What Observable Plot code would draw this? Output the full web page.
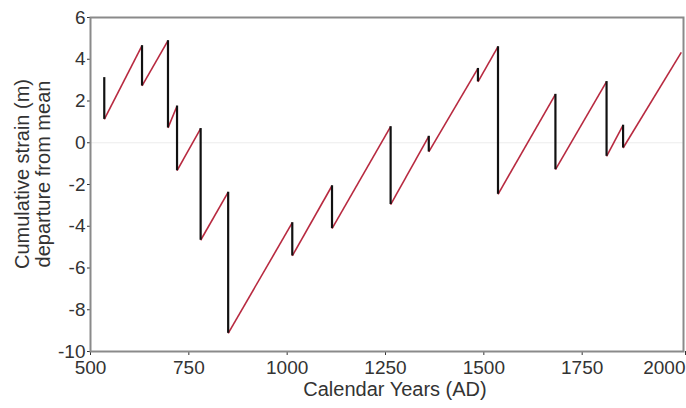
<!DOCTYPE html>
<html>
<head>
<meta charset="utf-8">
<script src="https://cdn.jsdelivr.net/npm/d3@7"></script>
<script src="https://cdn.jsdelivr.net/npm/@observablehq/plot@0.6"></script>
<style>
  html, body { margin: 0; padding: 0; background: #fff; }
  #chart { width: 686px; height: 408px; }
</style>
</head>
<body>
<div id="chart"></div>
<script>
// Earthquake years (AD), strain just before and just after each drop (m)
const eventYears   = [535, 631, 697, 720, 780, 850, 1013, 1114, 1263, 1360, 1485, 1536, 1682, 1812, 1854];
const strainBefore = [3.12, 4.65, 4.89, 1.76, 0.68, -2.37, -3.83, -2.06, 0.77, 0.31, 3.56, 4.60, 2.32, 2.93, 0.84];
const strainAfter  = [1.12, 2.72, 0.71, -1.34, -4.67, -9.13, -5.42, -4.11, -2.96, -0.44, 2.92, -2.47, -1.29, -0.65, -0.25];
const endYear = 2002;
const endStrain = 4.33;

const xTicks = [500, 750, 1000, 1250, 1500, 1750, 2000];
const yTicks = [-10, -8, -6, -4, -2, 0, 2, 4, 6];

const events = eventYears.map((y, i) => ({year: y, before: strainBefore[i], after: strainAfter[i]}));
const accumulation = events.map((e, i) => ({
  x1: e.year, y1: e.after,
  x2: i + 1 < events.length ? events[i + 1].year : endYear,
  y2: i + 1 < events.length ? events[i + 1].before : endStrain
}));

const fontFamily = "'Liberation Sans', Arial, Helvetica, sans-serif";
const lastTick = xTicks[xTicks.length - 1];

const plot = Plot.plot({
  width: 686,
  height: 408,
  marginLeft: 90,
  marginRight: 3,
  marginTop: 17,
  marginBottom: 57,
  style: {fontSize: "19px", fontFamily, color: "#333", background: "#fff", overflow: "visible"},
  x: {domain: [500, 2007.6], label: null},
  y: {domain: [-10, 6], ticks: yTicks, tickFormat: d => String(d), tickSize: 3, tickPadding: 2, label: null},
  marks: [
    Plot.ruleY([0], {stroke: "#ececec", strokeWidth: 1}),
    Plot.link(accumulation, {x1: "x1", y1: "y1", x2: "x2", y2: "y2", stroke: "#b82a40", strokeWidth: 1.6}),
    Plot.ruleX(events, {x: "year", y1: "before", y2: "after", stroke: "#111", strokeWidth: 2.2}),
    Plot.axisX(xTicks.filter(d => d !== lastTick), {tickSize: 4, tickPadding: 5, tickFormat: d => String(d), label: null}),
    Plot.axisX([lastTick], {tickSize: 4, tickPadding: 5, tickFormat: d => String(d), textAnchor: "end", dx: 5, label: null}),
    Plot.frame({stroke: "#8a8a8a", strokeWidth: 2})
  ]
});

const svg = d3.select(plot);
svg.append("text")
  .attr("x", 395).attr("y", 396)
  .attr("text-anchor", "middle")
  .attr("fill", "#333")
  .style("font-family", fontFamily)
  .style("font-size", "20px")
  .text("Calendar Years (AD)");
const yl = [["Cumulative strain (m)", 29], ["departure from mean", 50]];
yl.forEach(([t, bx]) => {
  svg.append("text")
    .attr("transform", `translate(${bx},174) rotate(-90)`)
    .attr("text-anchor", "middle")
    .attr("fill", "#333")
    .style("font-family", fontFamily)
    .style("font-size", "20px")
    .text(t);
});

document.getElementById("chart").appendChild(plot);
</script>
</body>
</html>
